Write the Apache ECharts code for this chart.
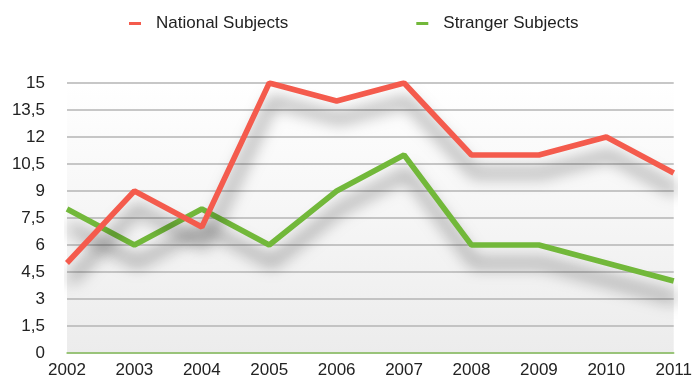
<!DOCTYPE html>
<html>
<head>
    <meta charset="UTF-8">
    <script src="https://cdn.jsdelivr.net/npm/echarts@6/dist/echarts.min.js"></script>
    <style>
        body { margin: 0; }
        #root { width: 695px; height: 379px; }
    </style>
</head>
<body>
    <div id="root"></div>
    <script>
        var years = ['2002', '2003', '2004', '2005', '2006', '2007', '2008', '2009', '2010', '2011'];
        var national = [5, 9, 7, 15, 14, 15, 11, 11, 12, 10];
        var stranger = [8, 6, 8, 6, 9, 11, 6, 6, 5, 4];

        var mychart = echarts.init(document.getElementById('root'));

        function shadowLine(color) {
            return {
                color: color,
                width: 5.5,
                shadowColor: 'rgba(0,0,0,0.55)',
                shadowBlur: 16,
                shadowOffsetX: 3,
                shadowOffsetY: 18
            };
        }

        mychart.setOption({
            backgroundColor: '#fff',
            textStyle: { fontFamily: 'Liberation Sans, Arial, sans-serif' },
            legend: {
                top: 10,
                left: 124,
                itemWidth: 12,
                itemHeight: 3,
                itemGap: 128,
                icon: 'rect',
                textStyle: { fontSize: 17, color: '#222', padding: [0, 0, 0, 10] },
                data: ['National Subjects', 'Stranger Subjects']
            },
            grid: {
                left: 67, right: 18, top: 83, bottom: 26,
                show: true,
                borderWidth: 0,
                backgroundColor: new echarts.graphic.LinearGradient(0, 0, 0, 1, [
                    { offset: 0, color: '#ffffff' },
                    { offset: 1, color: '#ececec' }
                ])
            },
            xAxis: {
                type: 'category',
                boundaryGap: false,
                data: years,
                axisLine: { lineStyle: { color: '#8cc461', width: 1.5 } },
                axisTick: { show: false },
                axisLabel: { color: '#222', fontSize: 17, margin: 9 }
            },
            yAxis: {
                type: 'value',
                min: 0, max: 15, interval: 1.5,
                axisLine: { show: false },
                axisTick: { show: false },
                splitLine: { lineStyle: { color: '#b4b4b4', width: 1.5 } },
                axisLabel: {
                    color: '#222', fontSize: 17, margin: 22,
                    formatter: function (v) { return String(v).replace('.', ','); }
                }
            },
            series: [{
                name: 'National Subjects',
                type: 'line',
                data: national,
                symbol: 'none',
                color: '#f45b4d',
                lineStyle: shadowLine('#f45b4d'),
                z: 3
            }, {
                name: 'Stranger Subjects',
                type: 'line',
                data: stranger,
                symbol: 'none',
                color: '#72b83a',
                lineStyle: shadowLine('#72b83a'),
                z: 2
            }]
        });
    </script>
</body>
</html>
